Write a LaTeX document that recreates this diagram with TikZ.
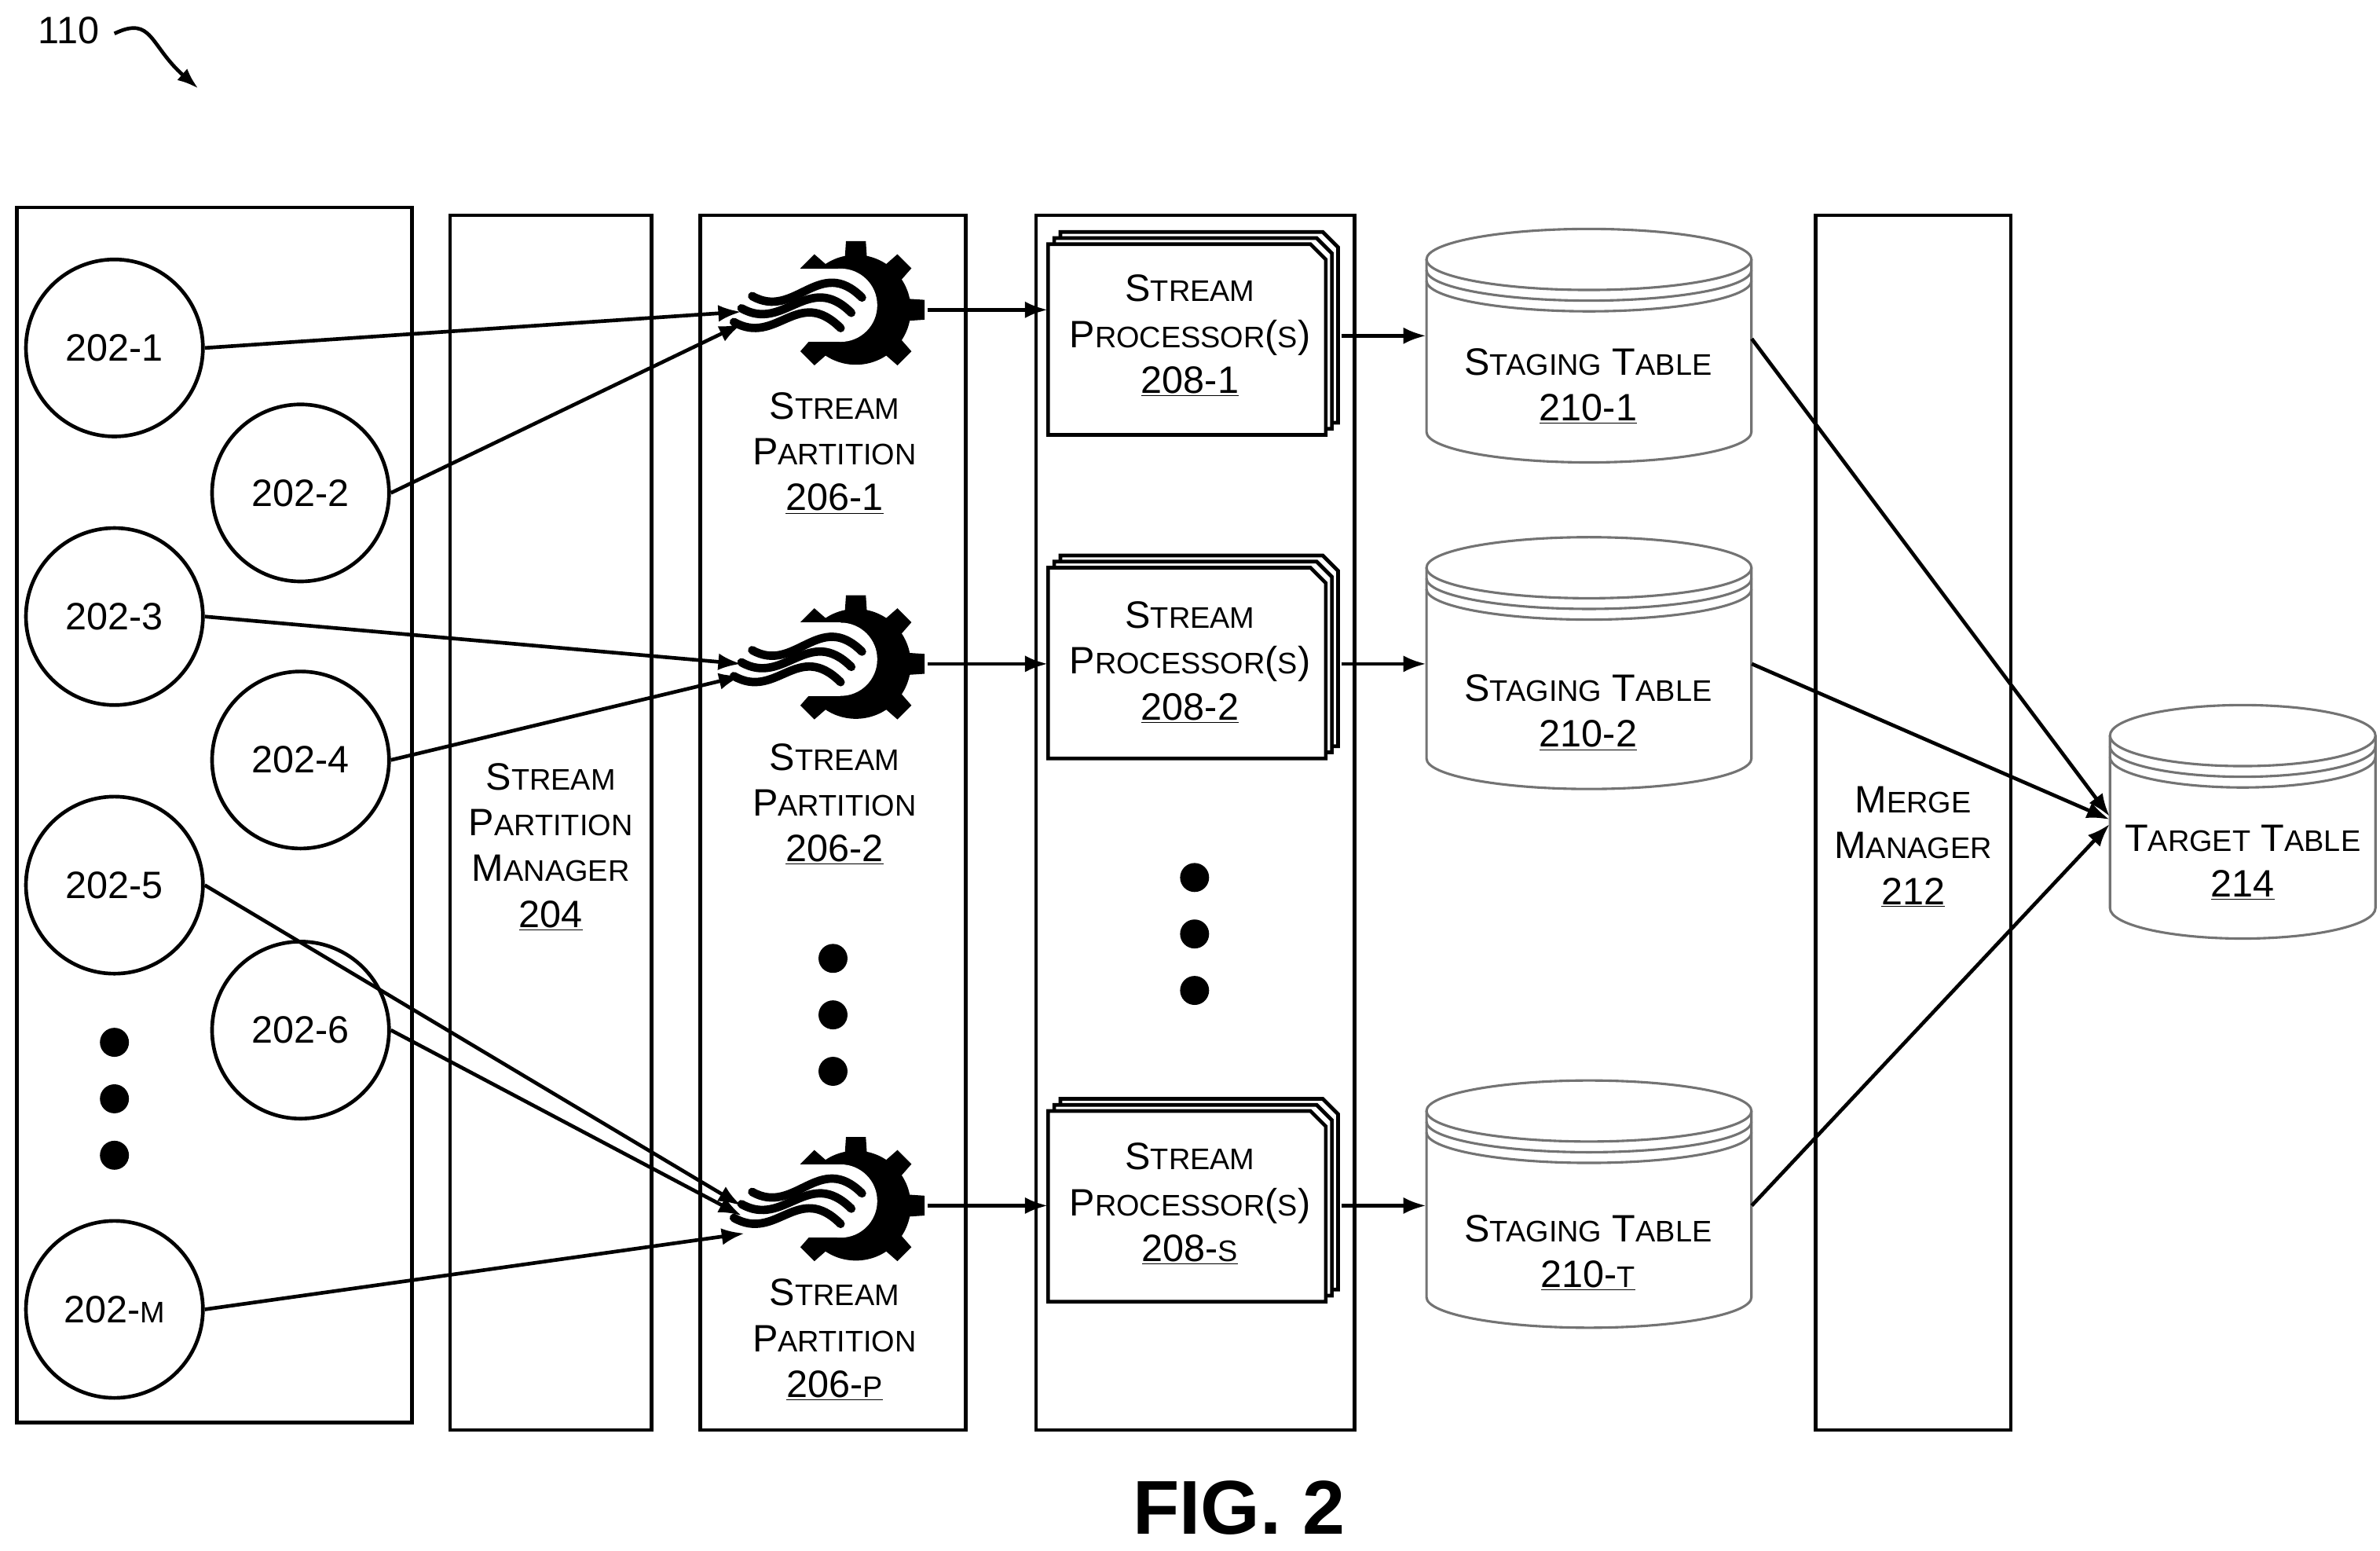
\documentclass[tikz,border=0pt]{standalone}
\usepackage{fontspec}
\setmainfont{Liberation Sans}
\usetikzlibrary{arrows.meta}
\newcommand\Sc[2]{{\fontsize{25}{30}\selectfont #1}{\fontsize{19.5}{30}\selectfont #2}}
\newcommand\Nm[1]{{\fontsize{25}{30}\selectfont #1}}
\tikzset{
 lw/.style={line width=2.4pt},
 arr/.style={lw,-{Latex[length=15pt,width=11pt]}},
 circ/.style={circle,draw,lw,minimum size=116pt,inner sep=0pt,font=\fontsize{25}{28}\selectfont},
 lbl/.style={align=center,font=\fontsize{25}{30}\selectfont,inner sep=0pt},
 dot/.style={circle,fill,minimum size=19pt,inner sep=0pt},
 gnode/.style={circle,minimum size=150pt,inner sep=0pt},
 cylc/.style={draw=black!55,line width=1.6pt,fill=white},
}
\newcommand\gear[2]{%
 \begin{scope}[shift={(#1,#2)}]
  \fill (0,0) circle[radius=36pt];
  \foreach \a in {0,45,90,135,225,270,315}{\fill[rotate=\a] (-9.5,0)--(-6.5,-45)--(6.5,-45)--(9.5,0)--cycle;}
  \fill[white] (-10,-3) circle[radius=24pt];
  \fill[white] (-70,-27) rectangle (-10,21);
  \foreach \sx/\sy/\ex/\ey in {-68/-9/4/-8, -75/-1/-3/2, -80/8/-10/12}{
   \draw[line width=5.5pt,line cap=round] (\sx,\sy) .. controls ({\sx+28},{\sy+16}) and ({\ex-28},{\ey-28}) .. (\ex,\ey);
  }
 \end{scope}}
\newcommand\stack[3]{% x y name
 \foreach \o in {8,4}{\draw[lw,fill=white] (#1+\o,#2-\o) -- (#1+\o+172,#2-\o) -- (#1+\o+182,#2-\o+10) -- (#1+\o+182,#2-\o+125) -- (#1+\o,#2-\o+125) -- cycle;}
 \draw[lw,fill=white] (#1,#2) -- (#1+172,#2) -- (#1+182,#2+10) -- (#1+182,#2+125) -- (#1,#2+125) -- cycle;
 \node[inner sep=0pt,minimum width=182pt,minimum height=125pt] (#3) at (#1+91,#2+62.5) {};}
\newcommand\cyl[5]{% x1 x2 ytop ybot name
 \pgfmathsetmacro\cx{(#1+#2)/2}\pgfmathsetmacro\rx{(#2-#1)/2}
 \draw[cylc] (#1,#3+20) -- (#1,#4-20) arc[start angle=180,end angle=360,x radius=\rx pt,y radius=20pt] -- (#2,#3+20);
 \draw[cylc] (\cx,#3+20) ellipse[x radius=\rx pt,y radius=20pt];
 \draw[cylc,fill=none] (#1,#3+27) arc[start angle=180,end angle=360,x radius=\rx pt,y radius=20pt];
 \draw[cylc,fill=none] (#1,#3+34) arc[start angle=180,end angle=360,x radius=\rx pt,y radius=20pt];
 \node[inner sep=0pt,minimum width=(#2-#1)*1pt,minimum height=(#4-#3)*1pt] (#5) at (\cx,{(#3+#4)/2}) {};}
\begin{document}
\begin{tikzpicture}[x=1pt,y=-1pt]
\useasboundingbox (0,0) rectangle (1560,1016);
\node[lbl] (ref) at (45,20) {110};
\coordinate (refend) at (130,58);
\draw[lw,-{Latex[length=14pt,width=10pt]}] (75,22) .. controls (100,10) and (98,30) .. (refend);
% columns
\draw[lw] (11,136) rectangle (270,932);
\draw[lw] (295,141) rectangle (427,937);
\draw[lw] (459,141) rectangle (633,937);
\draw[lw] (679,141) rectangle (888,937);
\draw[lw] (1190,141) rectangle (1318,937);
\node[lbl] (spm) at (361,555) {\Sc{S}{TREAM}\\\Sc{P}{ARTITION}\\\Sc{M}{ANAGER}\\\underline{204}};
\node[lbl] (mm) at (1254,555) {\Sc{M}{ERGE}\\\Sc{M}{ANAGER}\\\underline{212}};
% circles
\node[circ] (c1) at (75,228) {202-1};
\node[circ] (c2) at (197,323) {202-2};
\node[circ] (c3) at (75,404) {202-3};
\node[circ] (c4) at (197,498) {202-4};
\node[circ] (c5) at (75,580) {202-5};
\node[circ] (c6) at (197,675) {202-6};
\node[circ] (cm) at (75,858) {202-{\fontsize{19.5}{20}\selectfont M}};
\foreach \y [count=\i] in {683,720,757}{\node[dot] (d1\i) at (75,\y) {};}
\foreach \y [count=\i] in {628,665,702}{\node[dot] (d2\i) at (546,\y) {};}
\foreach \y [count=\i] in {575,612,649}{\node[dot] (d3\i) at (783,\y) {};}
% gears
\gear{561}{203}\gear{561}{435}\gear{561}{790}
\node[gnode] (g1) at (561,203) {};
\node[gnode] (g2) at (561,435) {};
\node[gnode] (g3) at (561,790) {};
\node[lbl] (t1) at (547,297) {\Sc{S}{TREAM}\\\Sc{P}{ARTITION}\\\underline{206-1}};
\node[lbl] (t2) at (547,527) {\Sc{S}{TREAM}\\\Sc{P}{ARTITION}\\\underline{206-2}};
\node[lbl] (t3) at (547,878) {\Sc{S}{TREAM}\\\Sc{P}{ARTITION}\\\underline{206-{\fontsize{19.5}{20}\selectfont P}}};
% processors
\stack{687}{160}{p1}\stack{687}{372}{p2}\stack{687}{728}{p3}
\node[lbl] at (780,220) {\Sc{S}{TREAM}\\\Sc{P}{ROCESSOR}\Nm{(}\Sc{}{S}\Nm{)}\\\underline{208-1}};
\node[lbl] at (780,434) {\Sc{S}{TREAM}\\\Sc{P}{ROCESSOR}\Nm{(}\Sc{}{S}\Nm{)}\\\underline{208-2}};
\node[lbl] at (780,789) {\Sc{S}{TREAM}\\\Sc{P}{ROCESSOR}\Nm{(}\Sc{}{S}\Nm{)}\\\underline{208-{\fontsize{19.5}{20}\selectfont S}}};
% cylinders
\cyl{935}{1148}{150}{303}{s1}
\cyl{935}{1148}{352}{517}{s2}
\cyl{935}{1148}{708}{870}{s3}
\cyl{1383}{1557}{462}{615}{tt}
\node[lbl] at (1041,253) {\Sc{S}{TAGING} \Sc{T}{ABLE}\\\underline{210-1}};
\node[lbl] at (1041,467) {\Sc{S}{TAGING} \Sc{T}{ABLE}\\\underline{210-2}};
\node[lbl] at (1041,821) {\Sc{S}{TAGING} \Sc{T}{ABLE}\\\underline{210-{\fontsize{19.5}{20}\selectfont T}}};
\node[lbl] at (1470,565) {\Sc{T}{ARGET} \Sc{T}{ABLE}\\\underline{214}};
% arrows circles -> gears
\draw[arr] (c1.east) -- (g1.181);
\draw[arr] (c2.east) -- (g1.187);
\draw[arr] (c3.east) -- (g2.180);
\draw[arr] (c4.east) -- (g2.186);
\draw[arr] (c5.east) -- (g3.180);
\draw[arr] (c6.east) -- (g3.185);
\draw[arr] (cm.east) -- (g3.194);
% gears -> processors
\draw[arr] (g1.center) ++(47,0) -- (p1.west |- g1);
\draw[arr] (g2.center) ++(47,0) -- (p2.west |- g2);
\draw[arr] (g3.center) ++(47,0) -- (p3.west |- g3);
% processors -> staging
\draw[arr] (p1.east |- 0,220) ++(10,0) -- (s1.west |- 0,220);
\draw[arr] (p2.east |- 0,435) ++(10,0) -- (s2.west |- 0,435);
\draw[arr] (p3.east |- 0,790) ++(10,0) -- (s3.west |- 0,790);
% staging -> target
\draw[arr] (s1.east |- 0,222) -- (tt.west |- 0,535);
\draw[arr] (s2.east |- 0,435) -- (tt.west |- 0,537);
\draw[arr] (s3.east |- 0,790) -- (tt.west |- 0,540);
\node[font=\bfseries\fontsize{50}{56}\selectfont] (fig) at (812,988) {FIG. 2};
\end{tikzpicture}
\end{document}
